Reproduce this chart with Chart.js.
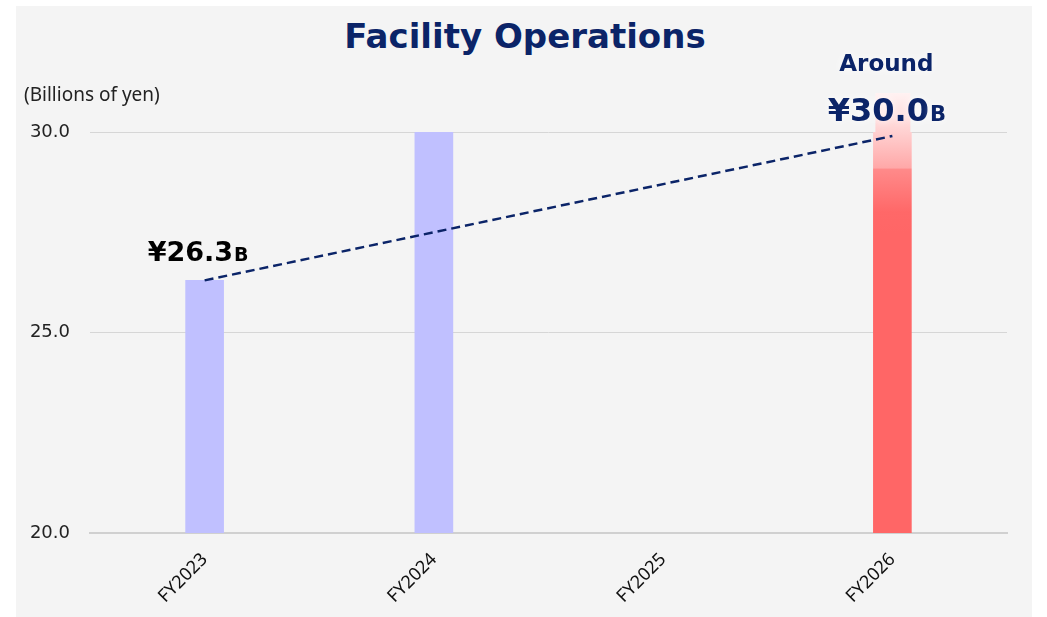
<!DOCTYPE html>
<html lang="en">
<head>
  <meta charset="UTF-8">
  <title>Facility Operations</title>
  <script src="https://cdn.jsdelivr.net/npm/chart.js"></script>
  <style>
    html, body { margin: 0; padding: 0; background: #ffffff; }
    #panel { position: absolute; left: 16px; top: 6px; width: 1016px; height: 611px; background: #f4f4f4; }
    #wrap { position: absolute; left: 0; top: 0; width: 1047px; height: 617px; }
    h1 { position: absolute; left: 0; top: 14px; width: 1050px; margin: 0; text-align: center;
         font-family: "DejaVu Sans", sans-serif; font-size: 34px; font-weight: bold; color: #0b2468; line-height: 44px; }
  </style>
</head>
<body>
  <div id="panel"></div>
  <h1>Facility Operations</h1>
  <div id="wrap"><canvas id="chart"></canvas></div>

  <script>
    // datos
    const categories = ['FY2023', 'FY2024', 'FY2025', 'FY2026'];
    const results = [26.3, 30.0, null, 30.0];
    const trend = [26.3, null, null, 29.9];
    const valueLabels = ['¥26.3', null, null, '¥30.0'];
    const unitSuffix = 'B';
    const forecastPrefix = 'Around';
    const yMin = 20, yMax = 30, yStep = 5;

    const NAVY = '#0b2468';
    const LAVENDER = '#c0c0ff';
    const RED = '#ff6666';

    function redGradient(chart) {
      const y = chart.scales.y;
      const top = y.getPixelForValue(yMax) - 39;
      const g = chart.ctx.createLinearGradient(0, top, 0, top + 140);
      g.addColorStop(0, '#fff2f2');
      g.addColorStop(0.28, '#ffd0d0');
      g.addColorStop(0.535, '#ffa8a8');
      g.addColorStop(0.545, '#ff8a8a');
      g.addColorStop(0.85, '#ff6868');
      g.addColorStop(1, RED);
      return g;
    }

    // etiqueta con la "B" mas pequena
    function drawValue(ctx, text, x, baseline, bigSize, smallSize, color) {
      ctx.font = 'bold ' + bigSize + 'px "DejaVu Sans"';
      const w1 = ctx.measureText(text).width;
      ctx.font = 'bold ' + smallSize + 'px "DejaVu Sans"';
      const w2 = ctx.measureText(unitSuffix).width;
      const left = x - (w1 + w2) / 2;
      ctx.fillStyle = color;
      ctx.textAlign = 'left';
      ctx.textBaseline = 'alphabetic';
      ctx.font = 'bold ' + bigSize + 'px "DejaVu Sans"';
      ctx.fillText(text, left, baseline);
      ctx.font = 'bold ' + smallSize + 'px "DejaVu Sans"';
      ctx.fillText(unitSuffix, left + w1 + 1, baseline);
    }

    const labelsPlugin = {
      id: 'labelsPlugin',
      afterDatasetDraw(chart, args) {
        if (args.index !== 0) return;
        // prolongacion difuminada de la barra prevista
        const bar = chart.getDatasetMeta(0).data[3];
        if (bar) {
          const ctx = chart.ctx;
          ctx.save();
          ctx.fillStyle = redGradient(chart);
          ctx.fillRect(bar.x - bar.width / 2 + 2, bar.y - 39, bar.width - 3, 39);
          ctx.restore();
        }
      },
      afterDraw(chart) {
        const ctx = chart.ctx;
        const area = chart.chartArea;
        const bars = chart.getDatasetMeta(0).data;
        ctx.save();

        ctx.fillStyle = '#222';
        ctx.font = '19px "Noto Sans"';
        ctx.textAlign = 'left';
        ctx.textBaseline = 'middle';
        ctx.fillText('(Billions of yen)', 24, area.top - 36);

        valueLabels.forEach((txt, i) => {
          if (!txt) return;
          const b = bars[i];
          if (i === categories.length - 1) {
            ctx.save();
            ctx.shadowColor = 'rgba(255,255,255,0.9)';
            ctx.shadowBlur = 8;
            ctx.fillStyle = NAVY;
            ctx.font = 'bold 23px "DejaVu Sans"';
            ctx.textAlign = 'center';
            ctx.textBaseline = 'alphabetic';
            ctx.fillText(forecastPrefix, b.x - 6, b.y - 61);
            drawValue(ctx, txt, b.x - 6, b.y - 11, 32, 21, NAVY);
            ctx.restore();
          } else {
            drawValue(ctx, txt, b.x - 7, b.y - 19, 27, 19, '#000');
          }
        });
        ctx.restore();
      }
    };

    new Chart(document.getElementById('chart'), {
      data: {
        labels: categories,
        datasets: [
          {
            type: 'bar',
            data: results,
            order: 1,
            barThickness: 38,
            backgroundColor: (c) => {
              if (c.dataIndex === 3) return c.chart.chartArea ? redGradient(c.chart) : RED;
              return LAVENDER;
            }
          },
          {
            type: 'line',
            data: trend,
            order: 0,
            spanGaps: true,
            borderColor: NAVY,
            borderWidth: 2.5,
            borderDash: [9, 5],
            pointRadius: 0,
            fill: false
          }
        ]
      },
      options: {
        responsive: true,
        maintainAspectRatio: false,
        animation: false,
        layout: { padding: { left: 0, right: 40, top: 132, bottom: 0 } },
        plugins: {
          legend: { display: false },
          tooltip: { enabled: false },
          title: { display: false }
        },
        scales: {
          x: {
            grid: { display: false },
            border: { display: true, color: '#d0d0d0', width: 2 },
            ticks: {
              color: '#111',
              font: { family: 'Noto Sans', size: 18 },
              maxRotation: 45,
              minRotation: 45,
              padding: 8
            },
            afterFit: (s) => { s.height = 84; }
          },
          y: {
            min: yMin,
            max: yMax,
            grid: { color: '#d6d6d6', lineWidth: 1, drawTicks: false },
            border: { display: false },
            ticks: {
              stepSize: yStep,
              color: '#222',
              font: { family: 'DejaVu Sans', size: 18 },
              padding: 20,
              callback: (v) => v.toFixed(1)
            },
            afterFit: (s) => { s.width = 90; }
          }
        }
      },
      plugins: [labelsPlugin]
    });
  </script>
</body>
</html>
